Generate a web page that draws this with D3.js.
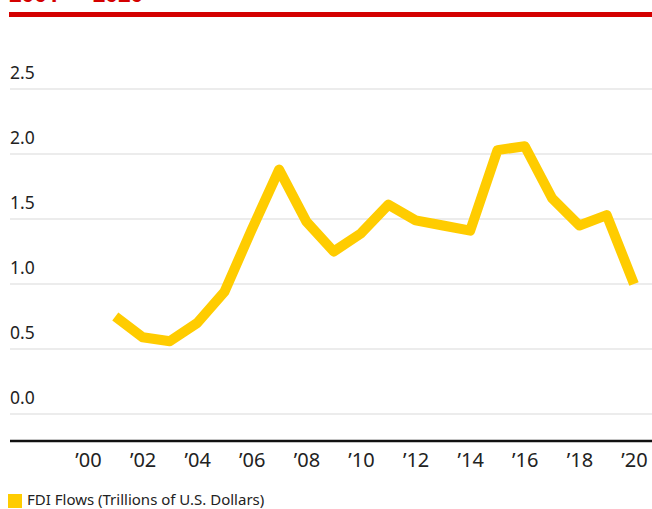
<!DOCTYPE html>
<html>
<head>
<meta charset="utf-8">
<script src="https://cdn.jsdelivr.net/npm/d3@7"></script>
<style>
  html, body { margin: 0; padding: 0; background: #fff; }
  svg { display: block; }
  text { font-family: "Noto Sans", "Open Sans", sans-serif; }
</style>
</head>
<body>
<div id="chart"></div>
<script>
const years = [2001, 2002, 2003, 2004, 2005, 2006, 2007, 2008, 2009, 2010,
               2011, 2012, 2013, 2014, 2015, 2016, 2017, 2018, 2019, 2020];
const fdiFlows = [0.75, 0.59, 0.56, 0.70, 0.94, 1.42, 1.88, 1.48, 1.25, 1.39,
                  1.61, 1.49, 1.45, 1.41, 2.03, 2.06, 1.66, 1.45, 1.53, 1.00];
const yTicks = [0, 0.5, 1.0, 1.5, 2.0, 2.5];
const xTicks = [2000, 2002, 2004, 2006, 2008, 2010, 2012, 2014, 2016, 2018, 2020];
const titleText = "2001 — 2020";
const legendLabel = "FDI Flows (Trillions of U.S. Dollars)";

const W = 652, H = 509;
const lineColor = "#FFCC00";
const svg = d3.select("#chart").append("svg").attr("width", W).attr("height", H);

const x = d3.scaleLinear().domain([2000, 2020]).range([88, 634]);
const y = d3.scaleLinear().domain([0, 2.5]).range([414, 89]);

// title (cut off at top)
svg.append("text").attr("x", 9).attr("y", 2)
  .attr("fill", "#D40000").attr("font-size", 22).attr("font-weight", 700)
  .text(titleText);
svg.append("rect").attr("x", 9).attr("y", 12).attr("width", W - 9).attr("height", 5)
  .attr("fill", "#D40000");

// gridlines + labels
const g = svg.append("g");
yTicks.forEach(t => {
  g.append("line").attr("x1", 10).attr("x2", W).attr("y1", y(t)).attr("y2", y(t))
    .attr("stroke", "#d9d9d9").attr("stroke-width", 1);
  g.append("text").attr("x", 10).attr("y", y(t) - 10)
    .attr("font-size", 17.5).attr("fill", "#222").text(t.toFixed(1));
});

// x axis line
svg.append("line").attr("x1", 10).attr("x2", W).attr("y1", 441).attr("y2", 441)
  .attr("stroke", "#111").attr("stroke-width", 2.5);

// x tick labels
const xAxis = d3.axisBottom(x).tickValues(xTicks).tickSize(0)
  .tickFormat(d => "\u2019" + String(d % 100).padStart(2, "0"));
const ax = svg.append("g").attr("transform", "translate(0,447)").call(xAxis);
ax.select(".domain").remove();
ax.selectAll("text").attr("font-size", 20).attr("fill", "#222")
  .attr("dy", null).attr("y", 20)
  .style("font-family", '"Noto Sans", "Open Sans", sans-serif');

// line
const line = d3.line().x((d, i) => x(years[i])).y(d => y(d));
svg.append("path").datum(fdiFlows).attr("d", line)
  .attr("fill", "none").attr("stroke", lineColor).attr("stroke-width", 10)
  .attr("stroke-linejoin", "round").attr("stroke-linecap", "butt");

// legend
svg.append("rect").attr("x", 8).attr("y", 494).attr("width", 14).attr("height", 14)
  .attr("fill", lineColor);
svg.append("text").attr("x", 27).attr("y", 505).attr("font-size", 15)
  .attr("fill", "#222").text(legendLabel);
</script>
</body>
</html>
